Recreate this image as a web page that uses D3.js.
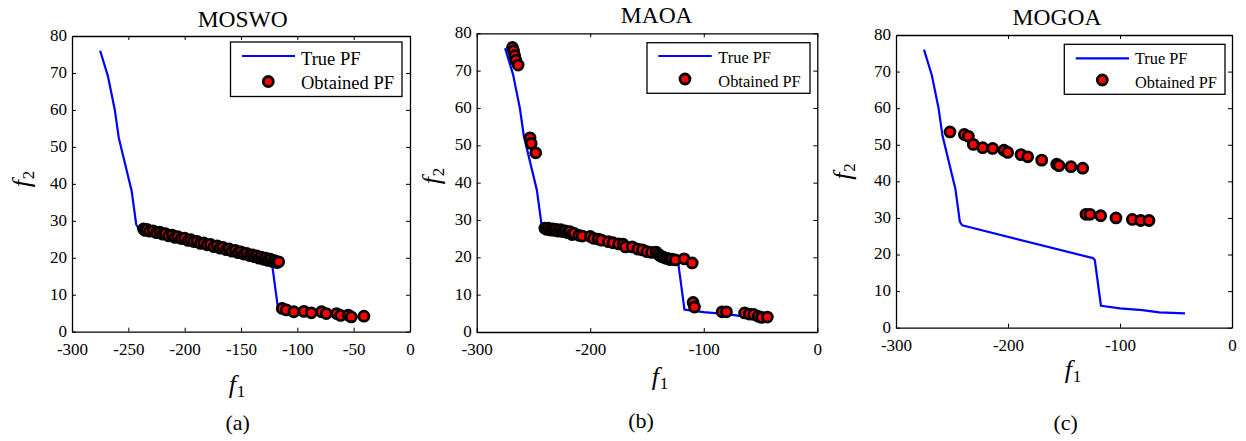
<!DOCTYPE html>
<html>
<head>
<meta charset="utf-8">
<script src="https://cdn.jsdelivr.net/npm/d3@7"></script>
<style>
  html, body { margin: 0; padding: 0; background: #fff; }
  svg { display: block; }
  svg text { font-family: 'Liberation Serif', 'Times New Roman', serif !important; fill: #000; }
</style>
</head>
<body>
<svg id="chart" width="1246" height="441" font-family="'Liberation Serif', 'Times New Roman', serif"></svg>
<script>
// True Pareto front (f1, f2), shared by all three panels
const truePF = [
  [-275, 76], [-268, 69], [-262, 60], [-258.5, 52.5], [-247, 38], [-243, 29],
  [-241, 28], [-124, 19], [-122.5, 18.5], [-117, 6], [-100, 5.3], [-80, 4.8],
  [-65, 4.2], [-42, 3.9]
];

// Obtained fronts for each algorithm
const moswoPF = [
  [-236.5, 27.8], [-235, 27.4], [-233.5, 27.7], [-231, 27.2], [-228, 27.3], [-225, 26.8],
  [-222, 26.9], [-219.5, 26.4], [-217, 26.5], [-214, 25.9], [-211, 26.1], [-208.5, 25.5],
  [-206, 25.7], [-203, 25.2], [-200, 25.3], [-197, 24.7], [-194.5, 24.9], [-192, 24.4],
  [-189, 24.4], [-186, 23.9], [-183, 24.0], [-180, 23.5], [-177, 23.6], [-174, 23.0],
  [-171, 23.2], [-168.5, 22.6], [-166, 22.8], [-163, 22.2], [-160.5, 22.4], [-158, 21.8],
  [-155, 22.0], [-152.5, 21.4], [-150, 21.6], [-147.5, 21.0], [-145, 21.2], [-142.5, 20.6],
  [-140, 20.8], [-138, 20.3], [-136, 20.5], [-134, 19.9], [-132, 20.2], [-130, 19.6],
  [-128, 19.9], [-126, 19.3], [-124, 19.6], [-122, 19.0], [-120, 19.2], [-118, 18.7],
  [-116.5, 18.9],
  [-113.4, 6.3], [-109.8, 5.9], [-103.1, 5.4], [-94.2, 5.5], [-87.6, 5.1], [-78.5, 5.4],
  [-74.3, 4.9], [-65.1, 4.9], [-61.6, 4.4], [-54.8, 4.5], [-52.1, 4.0], [-40.9, 4.2]
];

const maoaPF = [
  [-268.5, 76.2], [-267.5, 75.3], [-266.5, 74.0], [-265.5, 72.8], [-263.5, 71.5],
  [-253, 52.0], [-252, 50.5], [-248, 48.0],
  [-240, 27.8], [-238.5, 27.5], [-237, 27.8], [-235, 27.3], [-233, 27.6], [-231.5, 27.2],
  [-230, 27.5], [-228, 27.0], [-226, 27.4], [-224, 26.9], [-222, 27.1], [-220, 26.6],
  [-218, 26.9], [-216, 26.1], [-214, 26.4], [-210, 25.9], [-207, 25.7], [-200, 25.6],
  [-197, 25.1], [-193, 24.9], [-190, 24.6], [-184, 24.2], [-180, 23.9], [-175, 23.6],
  [-171, 23.5], [-169, 22.8], [-163, 22.8], [-158, 22.2], [-154, 22.0], [-150, 21.5],
  [-146, 21.3], [-142, 21.4], [-140, 20.8], [-138, 20.3], [-136, 20.1], [-134, 19.8],
  [-132, 19.7], [-130, 19.4], [-128, 19.5], [-125, 19.3], [-117.3, 19.6], [-110.2, 18.5],
  [-109.4, 7.9], [-108.2, 6.7],
  [-83.8, 5.4], [-80, 5.4], [-64, 5.1], [-60, 4.8], [-56, 4.7], [-52, 4.2], [-49, 3.9], [-44, 4.0]
];

const mogoaPF = [
  [-251.8, 53.5], [-239, 52.8], [-235.4, 52.3], [-231, 50.1], [-222.6, 49.2], [-213.7, 49.0],
  [-203.6, 48.5], [-200.3, 47.9], [-188.4, 47.3], [-182.4, 46.7], [-169.9, 45.8],
  [-156.5, 44.7], [-154.5, 44.3], [-143.8, 44.0], [-133.3, 43.6],
  [-130.4, 31.0], [-126.8, 31.0], [-117.2, 30.6], [-103.6, 30.0], [-89, 29.6], [-81.5, 29.3],
  [-74.1, 29.3]
];

// Axis ticks and labels
const titles = ["MOSWO", "MAOA", "MOGOA"];
const captions = ["(a)", "(b)", "(c)"];
const xTicksFine = [-300, -250, -200, -150, -100, -50, 0];
const xTicksCoarse = [-300, -200, -100, 0];
const yTicks = [0, 10, 20, 30, 40, 50, 60, 70, 80];
const legendLabels = ["True PF", "Obtained PF"];

const panels = [
  { pts: moswoPF, xTicks: xTicksFine, x0: 72, x1: 410, y0: 331.7, y1: 36,
    title: [242.7, 27], xl: [237, 385], yl: [22, 179], cap: [237.7, 430],
    leg: { x: 230.5, y: 42, w: 171.5, h: 54.5, lx0: 242, lx1: 295, ly: 56, mx: 268.3, my: 81.5,
           tx: 301, ty1: 64.5, ty2: 88.5, fs: 18.5 } },
  { pts: maoaPF, xTicks: xTicksCoarse, x0: 476.7, x1: 817.3, y0: 332, y1: 33.3,
    title: [656.7, 22.7], xl: [660, 377], yl: [431.5, 176], cap: [641, 428],
    leg: { x: 647, y: 42.7, w: 163, h: 50.6, lx0: 658.3, lx1: 711.7, ly: 56, mx: 685, my: 79,
           tx: 718.3, ty1: 63.3, ty2: 86.5, fs: 16.4 } },
  { pts: mogoaPF, xTicks: xTicksCoarse, x0: 896, x1: 1232, y0: 327.7, y1: 35,
    title: [1057, 25], xl: [1073, 369.5], yl: [843.3, 171.5], cap: [1065.7, 430],
    leg: { x: 1064.3, y: 44.3, w: 160.7, h: 50, lx0: 1075.7, lx1: 1129, ly: 58.3, mx: 1102.3, my: 80,
           tx: 1135, ty1: 64, ty2: 87.5, fs: 16.3 } }
];

const svg = d3.select("#chart");
const TICK = 4;
const FONT = "'Liberation Serif', 'Times New Roman', serif";
const MARK_R = 5, MARK_W = 2.8;

panels.forEach((p, i) => {
  const x = d3.scaleLinear().domain([-300, 0]).range([p.x0, p.x1]);
  const y = d3.scaleLinear().domain([0, 80]).range([p.y0, p.y1]);
  const g = svg.append("g");

  // axes: labelled bottom/left, tick-only top/right (inward ticks)
  const styleAxis = sel => {
    sel.attr("font-family", FONT).attr("font-size", 17);
    sel.select(".domain").attr("stroke", "#000").attr("stroke-width", 1.3);
    sel.selectAll(".tick line").attr("stroke", "#000").attr("stroke-width", 1);
    sel.selectAll("text").attr("fill", "#000");
  };
  g.append("g").attr("transform", `translate(0,${p.y0})`)
    .call(d3.axisBottom(x).tickValues(p.xTicks).tickSize(-TICK).tickSizeOuter(0).tickPadding(11)
      .tickFormat(d => String(d)))
    .call(styleAxis);
  g.append("g").attr("transform", `translate(0,${p.y1})`)
    .call(d3.axisTop(x).tickValues(p.xTicks).tickSize(-TICK).tickSizeOuter(0).tickFormat(""))
    .call(styleAxis);
  g.append("g").attr("transform", `translate(${p.x0},0)`)
    .call(d3.axisLeft(y).tickValues(yTicks).tickSize(-TICK).tickSizeOuter(0).tickPadding(5))
    .call(styleAxis)
    .call(sel => sel.selectAll("text").attr("dy", "0.26em"));
  g.append("g").attr("transform", `translate(${p.x1},0)`)
    .call(d3.axisRight(y).tickValues(yTicks).tickSize(-TICK).tickSizeOuter(0).tickFormat(""))
    .call(styleAxis);

  // true front
  g.append("path").datum(truePF)
    .attr("d", d3.line().x(d => x(d[0])).y(d => y(d[1])))
    .attr("fill", "none").attr("stroke", "#0000ff").attr("stroke-width", 2.2)
    .attr("stroke-linejoin", "round");

  // obtained front
  g.append("g").selectAll("circle").data(p.pts).join("circle")
    .attr("cx", d => x(d[0])).attr("cy", d => y(d[1])).attr("r", MARK_R)
    .attr("fill", "#ff0000").attr("stroke", "#000").attr("stroke-width", MARK_W);

  // legend
  const L = p.leg;
  g.append("rect").attr("x", L.x).attr("y", L.y).attr("width", L.w).attr("height", L.h)
    .attr("fill", "#fff").attr("stroke", "#000").attr("stroke-width", 1.3);
  g.append("line").attr("x1", L.lx0).attr("x2", L.lx1).attr("y1", L.ly).attr("y2", L.ly)
    .attr("stroke", "#0000ff").attr("stroke-width", 2.2);
  g.append("circle").attr("cx", L.mx).attr("cy", L.my).attr("r", MARK_R)
    .attr("fill", "#ff0000").attr("stroke", "#000").attr("stroke-width", MARK_W);
  g.append("text").attr("x", L.tx).attr("y", L.ty1).attr("font-size", L.fs).text(legendLabels[0]);
  g.append("text").attr("x", L.tx).attr("y", L.ty2).attr("font-size", L.fs).text(legendLabels[1]);

  // title
  g.append("text").attr("x", p.title[0]).attr("y", p.title[1]).attr("text-anchor", "middle")
    .attr("font-size", 23.5).text(titles[i]);

  // axis labels f1 / f2
  const xl = g.append("text").attr("x", p.xl[0]).attr("y", p.xl[1] + 8).attr("text-anchor", "middle");
  xl.append("tspan").attr("font-style", "italic").attr("font-size", 26).text("f");
  xl.append("tspan").attr("font-size", 17).attr("dy", 4).attr("dx", 1).text("1");

  const yl = g.append("text").attr("text-anchor", "middle")
    .attr("transform", `translate(${p.yl[0] + 8},${p.yl[1]}) rotate(-90)`);
  yl.append("tspan").attr("font-style", "italic").attr("font-size", 26).text("f");
  yl.append("tspan").attr("font-size", 17).attr("dy", 4).attr("dx", 1).text("2");

  // caption
  g.append("text").attr("x", p.cap[0]).attr("y", p.cap[1]).attr("text-anchor", "middle")
    .attr("font-size", 22).text(captions[i]);
});
</script>
</body>
</html>
